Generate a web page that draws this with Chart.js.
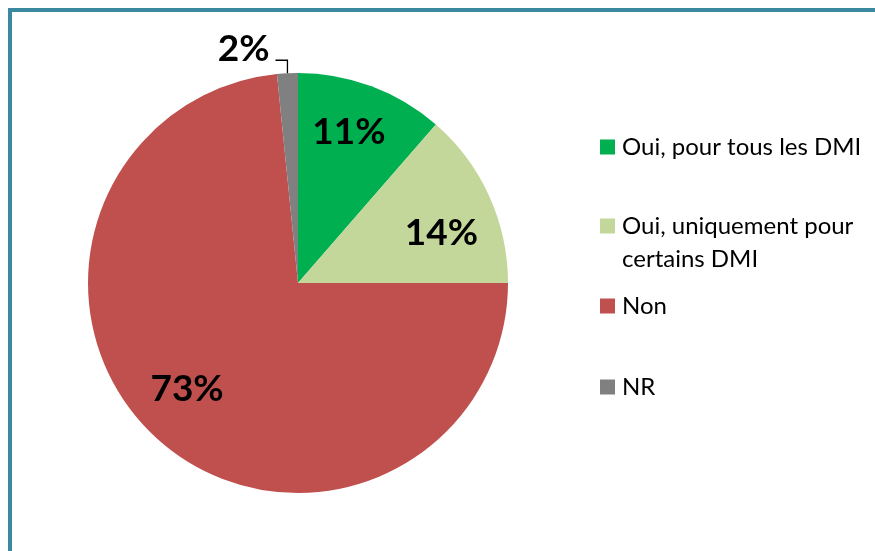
<!DOCTYPE html>
<html>
<head>
<meta charset="utf-8">
<script src="https://cdn.jsdelivr.net/npm/chart.js@4/dist/chart.umd.min.js"></script>
<style>
  html, body { margin: 0; padding: 0; background: #ffffff; }
  #wrap { position: relative; width: 875px; height: 551px; }
</style>
</head>
<body>
<div id="wrap"><canvas id="c" width="875" height="551"></canvas></div>
<script>
// ---- data ----
const categories = ["Oui, pour tous les DMI", "Oui, uniquement pour certains DMI", "Non", "NR"];
const legendLines = [["Oui, pour tous les DMI"], ["Oui, uniquement pour", "certains DMI"], ["Non"], ["NR"]];
const values = [11.4, 13.6, 73.4, 1.6];
const colors = ["#00B050", "#C4D79B", "#C0504D", "#808080"];

const FONT = "Lato, 'Open Sans', sans-serif";
// small placement adjustments for the in-slice labels (px), mimicking the original's best-fit placement
const labelNudge = [[-4, -4], [1, 15], [-6, -10], [0, 0]];

const framePlugin = {
  id: 'frame',
  beforeDraw(chart) {
    const ctx = chart.ctx;
    ctx.save();
    ctx.fillStyle = '#ffffff';
    ctx.fillRect(0, 0, chart.width, chart.height);
    ctx.strokeStyle = '#3A89A0';
    ctx.lineWidth = 4;
    ctx.strokeRect(10, 10, chart.width + 20, chart.height + 20);
    ctx.restore();
  }
};

const labelPlugin = {
  id: 'pctLabels',
  afterDraw(chart) {
    const ctx = chart.ctx;
    const meta = chart.getDatasetMeta(0);
    ctx.save();
    ctx.fillStyle = '#000000';
    ctx.font = "bold 37px " + FONT;
    ctx.textAlign = 'center';
    ctx.textBaseline = 'middle';
    meta.data.forEach((arc, i) => {
      const v = values[i];
      const txt = Math.round(v) + '%';
      const mid = (arc.startAngle + arc.endAngle) / 2;
      if (v < 5) {
        const px = arc.x + Math.cos(mid) * arc.outerRadius;
        const py = arc.y + Math.sin(mid) * arc.outerRadius;
        const ey = py - 13;
        const ex = px - 12;
        ctx.strokeStyle = '#000000';
        ctx.lineWidth = 1.3;
        ctx.beginPath();
        ctx.moveTo(px, py);
        ctx.lineTo(px, ey);
        ctx.lineTo(ex, ey);
        ctx.stroke();
        ctx.textAlign = 'right';
        ctx.fillText(txt, ex - 6, ey - 11);
        ctx.textAlign = 'center';
      } else {
        const r = arc.outerRadius * 0.745;
        ctx.fillText(txt, arc.x + Math.cos(mid) * r + labelNudge[i][0], arc.y + Math.sin(mid) * r + labelNudge[i][1]);
      }
    });

    // legend
    const legX = 600, boxSize = 15, textX = 622;
    const centers = [147, 226, 306, 387];
    ctx.font = "24px " + FONT;
    ctx.textAlign = 'left';
    ctx.textBaseline = 'middle';
    categories.forEach((c, i) => {
      const cy = centers[i];
      ctx.fillStyle = colors[i];
      ctx.fillRect(legX, cy - boxSize / 2, boxSize, boxSize);
      ctx.fillStyle = '#000000';
      legendLines[i].forEach((ln, k) => {
        ctx.fillText(ln, textX, cy + k * 33);
      });
    });
    ctx.restore();
  }
};

new Chart(document.getElementById('c'), {
  type: 'pie',
  data: {
    labels: categories,
    datasets: [{
      data: values,
      backgroundColor: colors,
      borderWidth: 0
    }]
  },
  options: {
    responsive: false,
    animation: false,
    rotation: 0,
    layout: { padding: { left: 88, right: 367, top: 73, bottom: 58 } },
    plugins: {
      legend: { display: false },
      tooltip: { enabled: false }
    }
  },
  plugins: [framePlugin, labelPlugin]
});
</script>
</body>
</html>
